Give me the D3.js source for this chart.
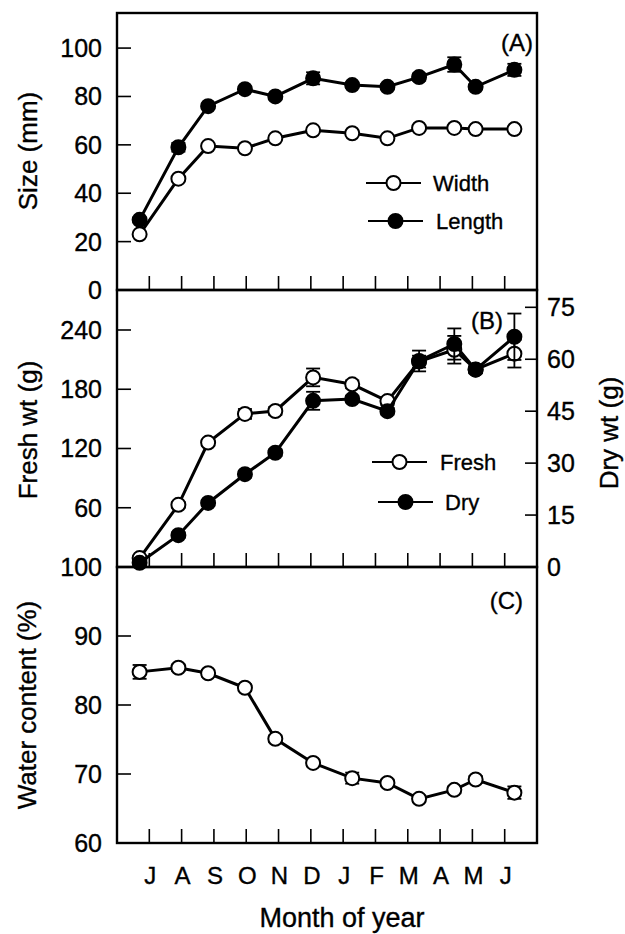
<!DOCTYPE html>
<html><head><meta charset="utf-8">
<script src="https://cdn.jsdelivr.net/npm/d3@7"></script>
<style>
html,body{margin:0;padding:0;background:#fff;}
svg text{font-family:"Liberation Sans",Arial,Helvetica,sans-serif;fill:#000;stroke:#000;stroke-width:0.35px;}
</style></head>
<body><svg id="c" width="625" height="934"></svg>
<script>
// ---- data ----
const monthLabels = ["J","A","S","O","N","D","J","F","M","A","M","J"];
// sampling dates in month units (0 = first July tick)
const sampleX = [-0.3, 0.9, 1.82, 2.96, 3.9, 5.07, 6.28, 7.37, 8.35, 9.44, 10.1, 11.3];
// Panel A
const widthMm  = [23, 46, 59.5, 58.6, 62.7, 66, 64.8, 62.7, 67, 67, 66.5, 66.5];
const widthErr = [0.5, 0.5, 0.5, 0.5, 0.5, 0.8, 0.5, 0.5, 0.8, 0.8, 0.5, 0.5];
const lengthMm = [29, 59, 76, 83, 80, 87.5, 84.7, 84, 88, 93.2, 84, 91];
const lengthErr= [1, 1.8, 1, 1, 1, 2.5, 1, 1, 1.5, 3, 1, 2.5];
// Panel B
const freshG   = [9, 63, 126, 155, 158, 192, 185, 168, 208, 220, 200, 216];
const freshErr = [2, 3, 3, 5, 4, 9, 4, 4, 6, 14, 4, 14];
const dryG     = [1.2, 9.2, 18.5, 26.8, 33, 48, 48.5, 45, 59.5, 64.4, 57, 66.5];
const dryErr   = [0.5, 0.8, 0.8, 1, 1, 2.6, 1, 1, 3, 4.5, 1, 6.7];
// Panel C
const waterPct = [84.8, 85.4, 84.6, 82.5, 75.1, 71.6, 69.4, 68.7, 66.4, 67.7, 69.2, 67.3];
const waterErr = [1, 0.5, 0.5, 0.5, 0.5, 0.5, 0.8, 0.5, 0.5, 0.5, 0.5, 0.9];
// ticks
const ticksA = [0, 20, 40, 60, 80, 100];
const ticksBLeft = [60, 120, 180, 240];
const ticksBRight = [0, 15, 30, 45, 60, 75];
const ticksC = [60, 70, 80, 90, 100];

// ---- layout ----
const svg = d3.select("#c");
const L = 117, R = 537;
const x = d3.scaleLinear().domain([-1, 12]).range([L, R]);
const yA = d3.scaleLinear().domain([0, 114.5]).range([290, 13]);
const yB = d3.scaleLinear().domain([0, 280.5]).range([567, 290]);
const yB2 = d3.scaleLinear().domain([0, 80]).range([567, 290]);
const yC = d3.scaleLinear().domain([60, 100]).range([843, 567]);
const FS = 25, TS = 26, R_M = 7;

function panel(y, top, bottom){
  const g = svg.append("g");
  g.selectAll("line.xt").data(d3.range(12)).join("line")
    .attr("x1", d => x(d)).attr("x2", d => x(d))
    .attr("y1", bottom).attr("y2", bottom - 14)
    .attr("stroke", "#000").attr("stroke-width", 1.6);
  g.append("rect").attr("x", L).attr("y", top).attr("width", R - L).attr("height", bottom - top)
    .attr("fill", "none").attr("stroke", "#000").attr("stroke-width", 2.4);
  return g;
}
function leftAxis(g, y, ticks, labelled){
  g.selectAll(null).data(ticks).join("line")
    .attr("x1", L).attr("x2", L + 14).attr("y1", d => y(d)).attr("y2", d => y(d))
    .attr("stroke", "#000").attr("stroke-width", 1.6);
  g.selectAll(null).data(labelled).join("text")
    .attr("x", 102).attr("y", d => y(d)).attr("dy", "0.36em")
    .attr("text-anchor", "end").attr("font-size", FS).text(d => d);
}
function series(g, y, vals, errs, filled){
  const pts = vals.map((v, i) => ({x: sampleX[i], v, e: errs[i]}));
  g.append("path").datum(pts)
    .attr("d", d3.line().x(d => x(d.x)).y(d => y(d.v)))
    .attr("fill", "none").attr("stroke", "#000").attr("stroke-width", 3);
  const eb = g.append("g").attr("stroke", "#000").attr("stroke-width", 1.8);
  pts.forEach(p => {
    const cx = x(p.x), y1 = y(p.v + p.e), y2 = y(p.v - p.e);
    eb.append("line").attr("x1", cx).attr("x2", cx).attr("y1", y1).attr("y2", y2);
    eb.append("line").attr("x1", cx - 7).attr("x2", cx + 7).attr("y1", y1).attr("y2", y1);
    eb.append("line").attr("x1", cx - 7).attr("x2", cx + 7).attr("y1", y2).attr("y2", y2);
  });
  g.selectAll(null).data(pts).join("circle")
    .attr("cx", d => x(d.x)).attr("cy", d => y(d.v)).attr("r", R_M)
    .attr("fill", filled ? "#000" : "#fff").attr("stroke", "#000").attr("stroke-width", 2);
}
function legend(g, x1, x2, cy, filled, label, tx){
  g.append("line").attr("x1", x1).attr("x2", x2).attr("y1", cy).attr("y2", cy)
    .attr("stroke", "#000").attr("stroke-width", 2);
  g.append("circle").attr("cx", (x1 + x2) / 2).attr("cy", cy).attr("r", R_M)
    .attr("fill", filled ? "#000" : "#fff").attr("stroke", "#000").attr("stroke-width", 2);
  g.append("text").attr("x", tx).attr("y", cy).attr("dy", "0.36em")
    .attr("font-size", 22).text(label);
}
function yTitle(cx, cy, t){
  svg.append("text").attr("transform", `translate(${cx},${cy}) rotate(-90)`)
    .attr("text-anchor", "middle").attr("dy", "0.36em").attr("font-size", TS).text(t);
}

// Panel A
const gA = panel(yA, 13, 290);
leftAxis(gA, yA, ticksA, ticksA);
series(gA, yA, widthMm, widthErr, false);
series(gA, yA, lengthMm, lengthErr, true);
legend(gA, 366, 421, 183, false, "Width", 433);
legend(gA, 368, 423, 221, true, "Length", 436);
gA.append("text").attr("x", 533).attr("y", 42).attr("dy", "0.36em").attr("text-anchor", "end").attr("font-size", 24).text("(A)");
yTitle(28, 151, "Size (mm)");

// Panel B
const gB = panel(yB, 290, 567);
leftAxis(gB, yB, ticksBLeft, ticksBLeft);
gB.selectAll(null).data(ticksBRight).join("line")
  .attr("x1", R - 12).attr("x2", R).attr("y1", d => yB2(d)).attr("y2", d => yB2(d))
  .attr("stroke", "#000").attr("stroke-width", 1.6);
gB.selectAll(null).data(ticksBRight).join("text")
  .attr("x", 547).attr("y", d => yB2(d)).attr("dy", "0.36em")
  .attr("font-size", FS).text(d => d);
series(gB, yB, freshG, freshErr, false);
series(gB, yB2, dryG, dryErr, true);
legend(gB, 372, 427, 462, false, "Fresh", 440);
legend(gB, 378, 433, 502, true, "Dry", 445);
gB.append("text").attr("x", 503).attr("y", 320).attr("dy", "0.36em").attr("text-anchor", "end").attr("font-size", 24).text("(B)");
yTitle(28, 430, "Fresh wt (g)");
svg.append("text").attr("transform", "translate(609,433) rotate(-90)")
  .attr("text-anchor", "middle").attr("dy", "0.36em").attr("font-size", TS).text("Dry wt (g)");

// Panel C
const gC = panel(yC, 567, 843);
leftAxis(gC, yC, ticksC, ticksC);
series(gC, yC, waterPct, waterErr, false);
gC.append("text").attr("x", 523).attr("y", 600).attr("dy", "0.36em").attr("text-anchor", "end").attr("font-size", 24).text("(C)");
yTitle(27, 705, "Water content (%)");

// x labels
svg.selectAll("text.month").data(monthLabels).join("text")
  .attr("x", (d, i) => x(i) + 1).attr("y", 884)
  .attr("text-anchor", "middle").attr("font-size", 24).text(d => d);
svg.append("text").attr("x", 342).attr("y", 927).attr("text-anchor", "middle")
  .attr("font-size", 27).text("Month of year");
</script></body></html>
